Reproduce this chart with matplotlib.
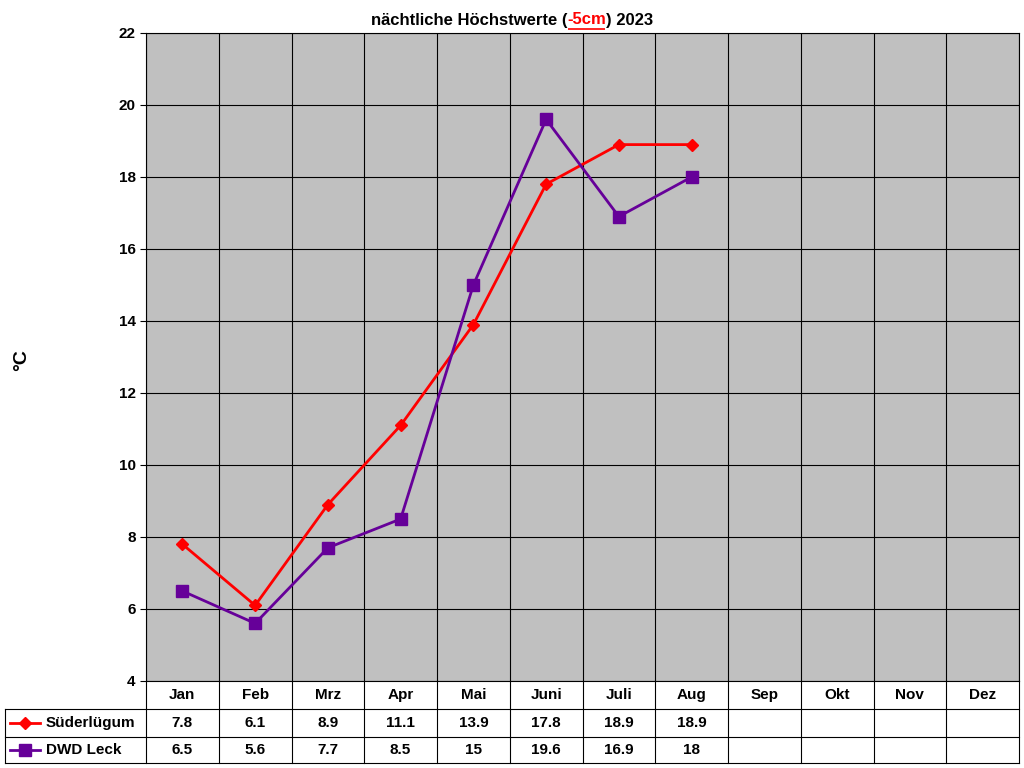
import matplotlib
matplotlib.use("Agg")
import matplotlib.pyplot as plt

months = ["Jan","Feb","Mrz","Apr","Mai","Juni","Juli","Aug","Sep","Okt","Nov","Dez"]
sued = [7.8,6.1,8.9,11.1,13.9,17.8,18.9,18.9]
dwd = [6.5,5.6,7.7,8.5,15,19.6,16.9,18]
sued_lbl = ["7.8","6.1","8.9","11.1","13.9","17.8","18.9","18.9"]
dwd_lbl = ["6.5","5.6","7.7","8.5","15","19.6","16.9","18"]

W,H = 1024,768
fig = plt.figure(figsize=(W/100,H/100), dpi=100)
plt.rcParams['font.family'] = ['Liberation Sans','DejaVu Sans']
L,R,T,B = 146,1019,33,681
ax = fig.add_axes([L/W, 1-B/H, (R-L)/W, (B-T)/H])
ax.set_facecolor('#c0c0c0')
ax.set_xlim(0,12); ax.set_ylim(4,22)
ax.set_yticks(range(4,23,2))
ax.set_xticks(range(13)); ax.set_xticklabels([])
ax.tick_params(axis='x', length=0)
ax.tick_params(axis='y', labelsize=11, length=4)
for t in ax.get_yticklabels(): t.set_fontweight('bold')
ax.grid(True, color='black', linewidth=0.8)
ax.set_axisbelow(True)
for s in ax.spines.values(): s.set_color('black')
ax.plot([i+0.5 for i in range(len(sued))], sued, color='#ff0000', marker='D', markersize=6, linewidth=2)
ax.plot([i+0.5 for i in range(len(dwd))], dwd, color='#660099', marker='s', markersize=8, linewidth=2)
fig.text(22/W, 1-360/H, "°C", rotation=90, fontsize=14, fontweight='bold', ha='center', va='center')

ta = fig.add_axes([0,0,1,1]); ta.set_xlim(0,W); ta.set_ylim(H,0); ta.axis('off')
rows = [681,709,737,763]
lk = dict(color='black', linewidth=0.8)
cw = (R-L)/12
for y in rows[1:]:
    ta.plot([5,R],[y,y],**lk)
ta.plot([5,5],[709,763],**lk)
for i in range(13):
    x = L+i*cw
    ta.plot([x,x],[681,763],**lk)
for i,m in enumerate(months):
    ta.text(L+(i+0.5)*cw, 695, m, ha='center', va='center', fontsize=11, fontweight='bold')
for i,v in enumerate(sued_lbl):
    ta.text(L+(i+0.5)*cw, 723, v, ha='center', va='center', fontsize=11, fontweight='bold')
for i,v in enumerate(dwd_lbl):
    ta.text(L+(i+0.5)*cw, 750, v, ha='center', va='center', fontsize=11, fontweight='bold')
ta.plot([10,40],[723,723],color='#ff0000',lw=2)
ta.plot([25],[723],color='#ff0000',marker='D',markersize=6)
ta.plot([10,40],[750,750],color='#660099',lw=2)
ta.plot([25],[750],color='#660099',marker='s',markersize=8)
ta.text(46,723,"Süderlügum",va='center',fontsize=11,fontweight='bold')
ta.text(46,750,"DWD Leck",va='center',fontsize=11,fontweight='bold')

fig.canvas.draw()
r = fig.canvas.get_renderer()
parts = [("nächtliche Höchstwerte (", 'black'), ("-5cm", '#ff0000'), (") 2023", 'black')]
texts = [ta.text(0,20,p,fontsize=12,fontweight='bold',color=c,va='center') for p,c in parts]
ws = [t.get_window_extent(r).width for t in texts]
x0 = 512 - sum(ws)/2
for t,w in zip(texts,ws):
    t.set_x(x0)
    if t.get_text()=="-5cm":
        ta.plot([x0+1,x0+w-1],[29,29],color='#ff0000',lw=1.2,solid_capstyle='butt')
    x0 += w
fig.savefig("out.png", dpi=100)
